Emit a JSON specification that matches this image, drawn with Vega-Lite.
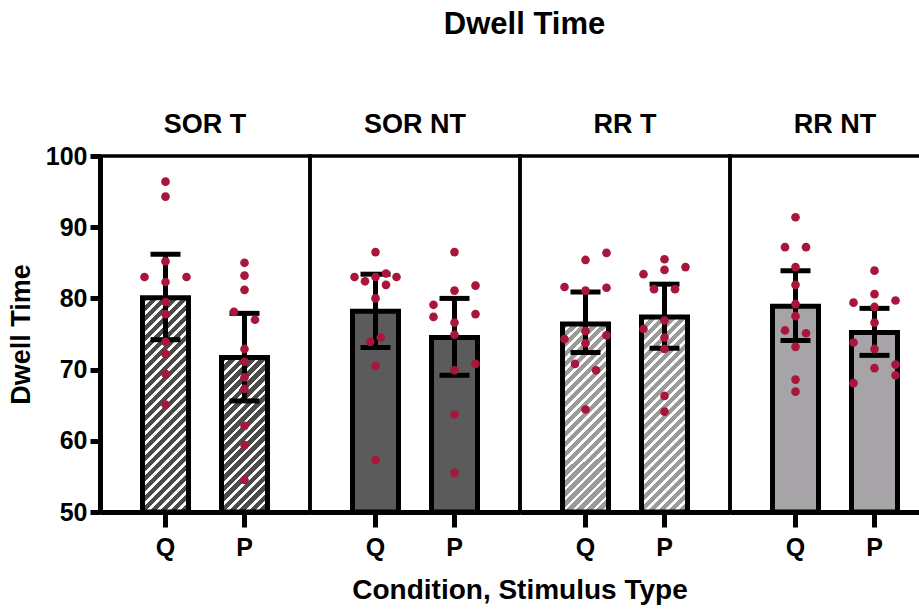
{
  "$schema": "https://vega.github.io/schema/vega-lite/v6.json",
  "background": "white",
  "bounds": "flush",
  "padding": {"left": 7, "top": 9, "right": 0, "bottom": 0},
  "title": {"text": "Dwell Time", "font": "Liberation Sans", "fontSize": 31, "fontWeight": "bold", "color": "black", "anchor": "middle", "frame": "bounds", "dx": 50, "offset": 70},
  "data": {"values": [
    {"cond": "SOR T", "stim": "Q", "kind": "bar", "mean": 80.1, "lo": 74.2, "hi": 86.2},
    {"cond": "SOR T", "stim": "P", "kind": "bar", "mean": 71.7, "lo": 65.6, "hi": 77.9},
    {"cond": "SOR NT", "stim": "Q", "kind": "bar", "mean": 78.2, "lo": 73.1, "hi": 83.4},
    {"cond": "SOR NT", "stim": "P", "kind": "bar", "mean": 74.5, "lo": 69.2, "hi": 80.0},
    {"cond": "RR T", "stim": "Q", "kind": "bar", "mean": 76.4, "lo": 72.4, "hi": 80.9},
    {"cond": "RR T", "stim": "P", "kind": "bar", "mean": 77.4, "lo": 73.0, "hi": 82.0},
    {"cond": "RR NT", "stim": "Q", "kind": "bar", "mean": 78.9, "lo": 74.1, "hi": 83.9},
    {"cond": "RR NT", "stim": "P", "kind": "bar", "mean": 75.2, "lo": 72.0, "hi": 78.6},

    {"cond": "SOR T", "stim": "Q", "kind": "pt", "value": 96.4, "lane": 0},
    {"cond": "SOR T", "stim": "Q", "kind": "pt", "value": 94.3, "lane": 0},
    {"cond": "SOR T", "stim": "Q", "kind": "pt", "value": 85.2, "lane": 0},
    {"cond": "SOR T", "stim": "Q", "kind": "pt", "value": 83.0, "lane": -2},
    {"cond": "SOR T", "stim": "Q", "kind": "pt", "value": 83.0, "lane": 2},
    {"cond": "SOR T", "stim": "Q", "kind": "pt", "value": 82.3, "lane": 0},
    {"cond": "SOR T", "stim": "Q", "kind": "pt", "value": 79.5, "lane": 0},
    {"cond": "SOR T", "stim": "Q", "kind": "pt", "value": 77.8, "lane": 0},
    {"cond": "SOR T", "stim": "Q", "kind": "pt", "value": 73.9, "lane": 0},
    {"cond": "SOR T", "stim": "Q", "kind": "pt", "value": 72.2, "lane": 0},
    {"cond": "SOR T", "stim": "Q", "kind": "pt", "value": 69.4, "lane": 0},
    {"cond": "SOR T", "stim": "Q", "kind": "pt", "value": 65.1, "lane": 0},

    {"cond": "SOR T", "stim": "P", "kind": "pt", "value": 85.0, "lane": 0},
    {"cond": "SOR T", "stim": "P", "kind": "pt", "value": 83.2, "lane": 0},
    {"cond": "SOR T", "stim": "P", "kind": "pt", "value": 81.2, "lane": 0},
    {"cond": "SOR T", "stim": "P", "kind": "pt", "value": 78.1, "lane": -1},
    {"cond": "SOR T", "stim": "P", "kind": "pt", "value": 77.0, "lane": 1},
    {"cond": "SOR T", "stim": "P", "kind": "pt", "value": 72.9, "lane": 0},
    {"cond": "SOR T", "stim": "P", "kind": "pt", "value": 71.1, "lane": 0},
    {"cond": "SOR T", "stim": "P", "kind": "pt", "value": 68.9, "lane": 0},
    {"cond": "SOR T", "stim": "P", "kind": "pt", "value": 67.3, "lane": 0},
    {"cond": "SOR T", "stim": "P", "kind": "pt", "value": 62.1, "lane": 0},
    {"cond": "SOR T", "stim": "P", "kind": "pt", "value": 59.4, "lane": 0},
    {"cond": "SOR T", "stim": "P", "kind": "pt", "value": 54.5, "lane": 0},

    {"cond": "SOR NT", "stim": "Q", "kind": "pt", "value": 86.5, "lane": 0},
    {"cond": "SOR NT", "stim": "Q", "kind": "pt", "value": 83.0, "lane": -2},
    {"cond": "SOR NT", "stim": "Q", "kind": "pt", "value": 82.4, "lane": -1},
    {"cond": "SOR NT", "stim": "Q", "kind": "pt", "value": 83.0, "lane": 0},
    {"cond": "SOR NT", "stim": "Q", "kind": "pt", "value": 83.5, "lane": 1},
    {"cond": "SOR NT", "stim": "Q", "kind": "pt", "value": 83.0, "lane": 2},
    {"cond": "SOR NT", "stim": "Q", "kind": "pt", "value": 81.9, "lane": 1},
    {"cond": "SOR NT", "stim": "Q", "kind": "pt", "value": 80.0, "lane": 0},
    {"cond": "SOR NT", "stim": "Q", "kind": "pt", "value": 73.9, "lane": -0.5},
    {"cond": "SOR NT", "stim": "Q", "kind": "pt", "value": 74.5, "lane": 0.5},
    {"cond": "SOR NT", "stim": "Q", "kind": "pt", "value": 70.5, "lane": 0},
    {"cond": "SOR NT", "stim": "Q", "kind": "pt", "value": 57.3, "lane": 0},

    {"cond": "SOR NT", "stim": "P", "kind": "pt", "value": 86.5, "lane": 0},
    {"cond": "SOR NT", "stim": "P", "kind": "pt", "value": 81.8, "lane": 2},
    {"cond": "SOR NT", "stim": "P", "kind": "pt", "value": 81.1, "lane": 0},
    {"cond": "SOR NT", "stim": "P", "kind": "pt", "value": 79.1, "lane": -2},
    {"cond": "SOR NT", "stim": "P", "kind": "pt", "value": 77.4, "lane": -2},
    {"cond": "SOR NT", "stim": "P", "kind": "pt", "value": 77.8, "lane": 2},
    {"cond": "SOR NT", "stim": "P", "kind": "pt", "value": 76.6, "lane": 0},
    {"cond": "SOR NT", "stim": "P", "kind": "pt", "value": 74.9, "lane": 0},
    {"cond": "SOR NT", "stim": "P", "kind": "pt", "value": 70.8, "lane": 2},
    {"cond": "SOR NT", "stim": "P", "kind": "pt", "value": 69.9, "lane": 0},
    {"cond": "SOR NT", "stim": "P", "kind": "pt", "value": 63.7, "lane": 0},
    {"cond": "SOR NT", "stim": "P", "kind": "pt", "value": 55.5, "lane": 0},

    {"cond": "RR T", "stim": "Q", "kind": "pt", "value": 86.4, "lane": 2},
    {"cond": "RR T", "stim": "Q", "kind": "pt", "value": 85.4, "lane": 0},
    {"cond": "RR T", "stim": "Q", "kind": "pt", "value": 81.6, "lane": -2},
    {"cond": "RR T", "stim": "Q", "kind": "pt", "value": 81.1, "lane": 0},
    {"cond": "RR T", "stim": "Q", "kind": "pt", "value": 81.5, "lane": 2},
    {"cond": "RR T", "stim": "Q", "kind": "pt", "value": 75.4, "lane": 0},
    {"cond": "RR T", "stim": "Q", "kind": "pt", "value": 74.3, "lane": -2},
    {"cond": "RR T", "stim": "Q", "kind": "pt", "value": 74.8, "lane": 2},
    {"cond": "RR T", "stim": "Q", "kind": "pt", "value": 73.7, "lane": 0},
    {"cond": "RR T", "stim": "Q", "kind": "pt", "value": 70.8, "lane": -1},
    {"cond": "RR T", "stim": "Q", "kind": "pt", "value": 69.9, "lane": 1},
    {"cond": "RR T", "stim": "Q", "kind": "pt", "value": 64.4, "lane": 0},

    {"cond": "RR T", "stim": "P", "kind": "pt", "value": 85.5, "lane": 0},
    {"cond": "RR T", "stim": "P", "kind": "pt", "value": 84.4, "lane": 2},
    {"cond": "RR T", "stim": "P", "kind": "pt", "value": 84.0, "lane": 0},
    {"cond": "RR T", "stim": "P", "kind": "pt", "value": 83.4, "lane": -2},
    {"cond": "RR T", "stim": "P", "kind": "pt", "value": 81.3, "lane": -1},
    {"cond": "RR T", "stim": "P", "kind": "pt", "value": 81.3, "lane": 1},
    {"cond": "RR T", "stim": "P", "kind": "pt", "value": 76.9, "lane": 0},
    {"cond": "RR T", "stim": "P", "kind": "pt", "value": 75.7, "lane": -2},
    {"cond": "RR T", "stim": "P", "kind": "pt", "value": 74.5, "lane": 0},
    {"cond": "RR T", "stim": "P", "kind": "pt", "value": 72.9, "lane": 0},
    {"cond": "RR T", "stim": "P", "kind": "pt", "value": 66.3, "lane": 0},
    {"cond": "RR T", "stim": "P", "kind": "pt", "value": 64.1, "lane": 0},

    {"cond": "RR NT", "stim": "Q", "kind": "pt", "value": 91.4, "lane": 0},
    {"cond": "RR NT", "stim": "Q", "kind": "pt", "value": 87.2, "lane": -1},
    {"cond": "RR NT", "stim": "Q", "kind": "pt", "value": 87.2, "lane": 1},
    {"cond": "RR NT", "stim": "Q", "kind": "pt", "value": 84.4, "lane": 0},
    {"cond": "RR NT", "stim": "Q", "kind": "pt", "value": 81.9, "lane": 0},
    {"cond": "RR NT", "stim": "Q", "kind": "pt", "value": 79.2, "lane": 0},
    {"cond": "RR NT", "stim": "Q", "kind": "pt", "value": 77.5, "lane": 0},
    {"cond": "RR NT", "stim": "Q", "kind": "pt", "value": 75.5, "lane": -1},
    {"cond": "RR NT", "stim": "Q", "kind": "pt", "value": 75.1, "lane": 1},
    {"cond": "RR NT", "stim": "Q", "kind": "pt", "value": 73.2, "lane": 0},
    {"cond": "RR NT", "stim": "Q", "kind": "pt", "value": 68.6, "lane": 0},
    {"cond": "RR NT", "stim": "Q", "kind": "pt", "value": 66.9, "lane": 0},

    {"cond": "RR NT", "stim": "P", "kind": "pt", "value": 83.9, "lane": 0},
    {"cond": "RR NT", "stim": "P", "kind": "pt", "value": 80.6, "lane": 0},
    {"cond": "RR NT", "stim": "P", "kind": "pt", "value": 79.4, "lane": -2},
    {"cond": "RR NT", "stim": "P", "kind": "pt", "value": 79.7, "lane": 2},
    {"cond": "RR NT", "stim": "P", "kind": "pt", "value": 78.8, "lane": 0},
    {"cond": "RR NT", "stim": "P", "kind": "pt", "value": 76.6, "lane": 0},
    {"cond": "RR NT", "stim": "P", "kind": "pt", "value": 73.8, "lane": -2},
    {"cond": "RR NT", "stim": "P", "kind": "pt", "value": 72.9, "lane": 0},
    {"cond": "RR NT", "stim": "P", "kind": "pt", "value": 70.7, "lane": 2},
    {"cond": "RR NT", "stim": "P", "kind": "pt", "value": 70.2, "lane": 0},
    {"cond": "RR NT", "stim": "P", "kind": "pt", "value": 69.2, "lane": 2},
    {"cond": "RR NT", "stim": "P", "kind": "pt", "value": 68.1, "lane": -2}
  ]},
  "spacing": 0,
  "facet": {
    "column": {
      "field": "cond", "type": "nominal",
      "sort": ["SOR T", "SOR NT", "RR T", "RR NT"],
      "title": "Condition, Stimulus Type",
      "header": {
        "labelOrient": "top", "titleOrient": "bottom",
        "labelFont": "Liberation Sans", "labelFontSize": 27, "labelFontWeight": "bold", "labelColor": "black", "labelPadding": 17,
        "titleFont": "Liberation Sans", "titleFontSize": 28, "titleFontWeight": "bold", "titleColor": "black", "titlePadding": 7
      }
    }
  },
  "spec": {
    "width": 210,
    "height": 356,
    "resolve": {"scale": {"xOffset": "independent"}},
    "layer": [
      {
        "transform": [{"filter": "datum.kind === 'bar'"}],
        "mark": {"type": "bar", "stroke": "black", "strokeWidth": 5, "width": 46},
        "encoding": {
          "x": {"field": "stim", "type": "nominal", "sort": ["Q", "P"], "title": null, "scale": {"paddingInner": 0.4177, "paddingOuter": 0.538}},
          "y": {"field": "mean", "type": "quantitative", "title": "Dwell Time", "scale": {"domain": [50, 100], "nice": false, "zero": false}, "axis": {"values": [50, 60, 70, 80, 90, 100]}},
          "y2": {"datum": 50},
          "fill": {
            "condition": [
              {"test": "datum.cond === 'SOR T' && datum.stim === 'Q'", "value": {"gradient": "linear", "x1": 0, "y1": 0, "x2": 0.25853, "y2": 1.20443, "stops": [{"offset":0,"color":"#4b4b4b"},{"offset":0.0241,"color":"#4b4b4b"},{"offset":0.0241,"color":"#fff"},{"offset":0.037,"color":"#fff"},{"offset":0.037,"color":"#4b4b4b"},{"offset":0.0611,"color":"#4b4b4b"},{"offset":0.0611,"color":"#fff"},{"offset":0.0741,"color":"#fff"},{"offset":0.0741,"color":"#4b4b4b"},{"offset":0.0981,"color":"#4b4b4b"},{"offset":0.0981,"color":"#fff"},{"offset":0.1111,"color":"#fff"},{"offset":0.1111,"color":"#4b4b4b"},{"offset":0.1352,"color":"#4b4b4b"},{"offset":0.1352,"color":"#fff"},{"offset":0.1481,"color":"#fff"},{"offset":0.1481,"color":"#4b4b4b"},{"offset":0.1722,"color":"#4b4b4b"},{"offset":0.1722,"color":"#fff"},{"offset":0.1852,"color":"#fff"},{"offset":0.1852,"color":"#4b4b4b"},{"offset":0.2093,"color":"#4b4b4b"},{"offset":0.2093,"color":"#fff"},{"offset":0.2222,"color":"#fff"},{"offset":0.2222,"color":"#4b4b4b"},{"offset":0.2463,"color":"#4b4b4b"},{"offset":0.2463,"color":"#fff"},{"offset":0.2593,"color":"#fff"},{"offset":0.2593,"color":"#4b4b4b"},{"offset":0.2833,"color":"#4b4b4b"},{"offset":0.2833,"color":"#fff"},{"offset":0.2963,"color":"#fff"},{"offset":0.2963,"color":"#4b4b4b"},{"offset":0.3204,"color":"#4b4b4b"},{"offset":0.3204,"color":"#fff"},{"offset":0.3333,"color":"#fff"},{"offset":0.3333,"color":"#4b4b4b"},{"offset":0.3574,"color":"#4b4b4b"},{"offset":0.3574,"color":"#fff"},{"offset":0.3704,"color":"#fff"},{"offset":0.3704,"color":"#4b4b4b"},{"offset":0.3944,"color":"#4b4b4b"},{"offset":0.3944,"color":"#fff"},{"offset":0.4074,"color":"#fff"},{"offset":0.4074,"color":"#4b4b4b"},{"offset":0.4315,"color":"#4b4b4b"},{"offset":0.4315,"color":"#fff"},{"offset":0.4444,"color":"#fff"},{"offset":0.4444,"color":"#4b4b4b"},{"offset":0.4685,"color":"#4b4b4b"},{"offset":0.4685,"color":"#fff"},{"offset":0.4815,"color":"#fff"},{"offset":0.4815,"color":"#4b4b4b"},{"offset":0.5056,"color":"#4b4b4b"},{"offset":0.5056,"color":"#fff"},{"offset":0.5185,"color":"#fff"},{"offset":0.5185,"color":"#4b4b4b"},{"offset":0.5426,"color":"#4b4b4b"},{"offset":0.5426,"color":"#fff"},{"offset":0.5556,"color":"#fff"},{"offset":0.5556,"color":"#4b4b4b"},{"offset":0.5796,"color":"#4b4b4b"},{"offset":0.5796,"color":"#fff"},{"offset":0.5926,"color":"#fff"},{"offset":0.5926,"color":"#4b4b4b"},{"offset":0.6167,"color":"#4b4b4b"},{"offset":0.6167,"color":"#fff"},{"offset":0.6296,"color":"#fff"},{"offset":0.6296,"color":"#4b4b4b"},{"offset":0.6537,"color":"#4b4b4b"},{"offset":0.6537,"color":"#fff"},{"offset":0.6667,"color":"#fff"},{"offset":0.6667,"color":"#4b4b4b"},{"offset":0.6907,"color":"#4b4b4b"},{"offset":0.6907,"color":"#fff"},{"offset":0.7037,"color":"#fff"},{"offset":0.7037,"color":"#4b4b4b"},{"offset":0.7278,"color":"#4b4b4b"},{"offset":0.7278,"color":"#fff"},{"offset":0.7407,"color":"#fff"},{"offset":0.7407,"color":"#4b4b4b"},{"offset":0.7648,"color":"#4b4b4b"},{"offset":0.7648,"color":"#fff"},{"offset":0.7778,"color":"#fff"},{"offset":0.7778,"color":"#4b4b4b"},{"offset":0.8019,"color":"#4b4b4b"},{"offset":0.8019,"color":"#fff"},{"offset":0.8148,"color":"#fff"},{"offset":0.8148,"color":"#4b4b4b"},{"offset":0.8389,"color":"#4b4b4b"},{"offset":0.8389,"color":"#fff"},{"offset":0.8519,"color":"#fff"},{"offset":0.8519,"color":"#4b4b4b"},{"offset":0.8759,"color":"#4b4b4b"},{"offset":0.8759,"color":"#fff"},{"offset":0.8889,"color":"#fff"},{"offset":0.8889,"color":"#4b4b4b"},{"offset":0.913,"color":"#4b4b4b"},{"offset":0.913,"color":"#fff"},{"offset":0.9259,"color":"#fff"},{"offset":0.9259,"color":"#4b4b4b"},{"offset":0.95,"color":"#4b4b4b"},{"offset":0.95,"color":"#fff"},{"offset":0.963,"color":"#fff"},{"offset":0.963,"color":"#4b4b4b"},{"offset":0.987,"color":"#4b4b4b"},{"offset":0.987,"color":"#fff"},{"offset":1,"color":"#fff"}]}},
              {"test": "datum.cond === 'SOR T' && datum.stim === 'P'", "value": {"gradient": "linear", "x1": 0, "y1": 0, "x2": 0.47795, "y2": 1.60528, "stops": [{"offset":0,"color":"#4b4b4b"},{"offset":0.0241,"color":"#4b4b4b"},{"offset":0.0241,"color":"#fff"},{"offset":0.037,"color":"#fff"},{"offset":0.037,"color":"#4b4b4b"},{"offset":0.0611,"color":"#4b4b4b"},{"offset":0.0611,"color":"#fff"},{"offset":0.0741,"color":"#fff"},{"offset":0.0741,"color":"#4b4b4b"},{"offset":0.0981,"color":"#4b4b4b"},{"offset":0.0981,"color":"#fff"},{"offset":0.1111,"color":"#fff"},{"offset":0.1111,"color":"#4b4b4b"},{"offset":0.1352,"color":"#4b4b4b"},{"offset":0.1352,"color":"#fff"},{"offset":0.1481,"color":"#fff"},{"offset":0.1481,"color":"#4b4b4b"},{"offset":0.1722,"color":"#4b4b4b"},{"offset":0.1722,"color":"#fff"},{"offset":0.1852,"color":"#fff"},{"offset":0.1852,"color":"#4b4b4b"},{"offset":0.2093,"color":"#4b4b4b"},{"offset":0.2093,"color":"#fff"},{"offset":0.2222,"color":"#fff"},{"offset":0.2222,"color":"#4b4b4b"},{"offset":0.2463,"color":"#4b4b4b"},{"offset":0.2463,"color":"#fff"},{"offset":0.2593,"color":"#fff"},{"offset":0.2593,"color":"#4b4b4b"},{"offset":0.2833,"color":"#4b4b4b"},{"offset":0.2833,"color":"#fff"},{"offset":0.2963,"color":"#fff"},{"offset":0.2963,"color":"#4b4b4b"},{"offset":0.3204,"color":"#4b4b4b"},{"offset":0.3204,"color":"#fff"},{"offset":0.3333,"color":"#fff"},{"offset":0.3333,"color":"#4b4b4b"},{"offset":0.3574,"color":"#4b4b4b"},{"offset":0.3574,"color":"#fff"},{"offset":0.3704,"color":"#fff"},{"offset":0.3704,"color":"#4b4b4b"},{"offset":0.3944,"color":"#4b4b4b"},{"offset":0.3944,"color":"#fff"},{"offset":0.4074,"color":"#fff"},{"offset":0.4074,"color":"#4b4b4b"},{"offset":0.4315,"color":"#4b4b4b"},{"offset":0.4315,"color":"#fff"},{"offset":0.4444,"color":"#fff"},{"offset":0.4444,"color":"#4b4b4b"},{"offset":0.4685,"color":"#4b4b4b"},{"offset":0.4685,"color":"#fff"},{"offset":0.4815,"color":"#fff"},{"offset":0.4815,"color":"#4b4b4b"},{"offset":0.5056,"color":"#4b4b4b"},{"offset":0.5056,"color":"#fff"},{"offset":0.5185,"color":"#fff"},{"offset":0.5185,"color":"#4b4b4b"},{"offset":0.5426,"color":"#4b4b4b"},{"offset":0.5426,"color":"#fff"},{"offset":0.5556,"color":"#fff"},{"offset":0.5556,"color":"#4b4b4b"},{"offset":0.5796,"color":"#4b4b4b"},{"offset":0.5796,"color":"#fff"},{"offset":0.5926,"color":"#fff"},{"offset":0.5926,"color":"#4b4b4b"},{"offset":0.6167,"color":"#4b4b4b"},{"offset":0.6167,"color":"#fff"},{"offset":0.6296,"color":"#fff"},{"offset":0.6296,"color":"#4b4b4b"},{"offset":0.6537,"color":"#4b4b4b"},{"offset":0.6537,"color":"#fff"},{"offset":0.6667,"color":"#fff"},{"offset":0.6667,"color":"#4b4b4b"},{"offset":0.6907,"color":"#4b4b4b"},{"offset":0.6907,"color":"#fff"},{"offset":0.7037,"color":"#fff"},{"offset":0.7037,"color":"#4b4b4b"},{"offset":0.7278,"color":"#4b4b4b"},{"offset":0.7278,"color":"#fff"},{"offset":0.7407,"color":"#fff"},{"offset":0.7407,"color":"#4b4b4b"},{"offset":0.7648,"color":"#4b4b4b"},{"offset":0.7648,"color":"#fff"},{"offset":0.7778,"color":"#fff"},{"offset":0.7778,"color":"#4b4b4b"},{"offset":0.8019,"color":"#4b4b4b"},{"offset":0.8019,"color":"#fff"},{"offset":0.8148,"color":"#fff"},{"offset":0.8148,"color":"#4b4b4b"},{"offset":0.8389,"color":"#4b4b4b"},{"offset":0.8389,"color":"#fff"},{"offset":0.8519,"color":"#fff"},{"offset":0.8519,"color":"#4b4b4b"},{"offset":0.8759,"color":"#4b4b4b"},{"offset":0.8759,"color":"#fff"},{"offset":0.8889,"color":"#fff"},{"offset":0.8889,"color":"#4b4b4b"},{"offset":0.913,"color":"#4b4b4b"},{"offset":0.913,"color":"#fff"},{"offset":0.9259,"color":"#fff"},{"offset":0.9259,"color":"#4b4b4b"},{"offset":0.95,"color":"#4b4b4b"},{"offset":0.95,"color":"#fff"},{"offset":0.963,"color":"#fff"},{"offset":0.963,"color":"#4b4b4b"},{"offset":0.987,"color":"#4b4b4b"},{"offset":0.987,"color":"#fff"},{"offset":1,"color":"#fff"}]}},
              {"test": "datum.cond === 'RR T' && datum.stim === 'Q'", "value": {"gradient": "linear", "x1": 0, "y1": 0, "x2": 0.32924, "y2": 1.35059, "stops": [{"offset":0,"color":"#9b9b9b"},{"offset":0.0241,"color":"#9b9b9b"},{"offset":0.0241,"color":"#fff"},{"offset":0.037,"color":"#fff"},{"offset":0.037,"color":"#9b9b9b"},{"offset":0.0611,"color":"#9b9b9b"},{"offset":0.0611,"color":"#fff"},{"offset":0.0741,"color":"#fff"},{"offset":0.0741,"color":"#9b9b9b"},{"offset":0.0981,"color":"#9b9b9b"},{"offset":0.0981,"color":"#fff"},{"offset":0.1111,"color":"#fff"},{"offset":0.1111,"color":"#9b9b9b"},{"offset":0.1352,"color":"#9b9b9b"},{"offset":0.1352,"color":"#fff"},{"offset":0.1481,"color":"#fff"},{"offset":0.1481,"color":"#9b9b9b"},{"offset":0.1722,"color":"#9b9b9b"},{"offset":0.1722,"color":"#fff"},{"offset":0.1852,"color":"#fff"},{"offset":0.1852,"color":"#9b9b9b"},{"offset":0.2093,"color":"#9b9b9b"},{"offset":0.2093,"color":"#fff"},{"offset":0.2222,"color":"#fff"},{"offset":0.2222,"color":"#9b9b9b"},{"offset":0.2463,"color":"#9b9b9b"},{"offset":0.2463,"color":"#fff"},{"offset":0.2593,"color":"#fff"},{"offset":0.2593,"color":"#9b9b9b"},{"offset":0.2833,"color":"#9b9b9b"},{"offset":0.2833,"color":"#fff"},{"offset":0.2963,"color":"#fff"},{"offset":0.2963,"color":"#9b9b9b"},{"offset":0.3204,"color":"#9b9b9b"},{"offset":0.3204,"color":"#fff"},{"offset":0.3333,"color":"#fff"},{"offset":0.3333,"color":"#9b9b9b"},{"offset":0.3574,"color":"#9b9b9b"},{"offset":0.3574,"color":"#fff"},{"offset":0.3704,"color":"#fff"},{"offset":0.3704,"color":"#9b9b9b"},{"offset":0.3944,"color":"#9b9b9b"},{"offset":0.3944,"color":"#fff"},{"offset":0.4074,"color":"#fff"},{"offset":0.4074,"color":"#9b9b9b"},{"offset":0.4315,"color":"#9b9b9b"},{"offset":0.4315,"color":"#fff"},{"offset":0.4444,"color":"#fff"},{"offset":0.4444,"color":"#9b9b9b"},{"offset":0.4685,"color":"#9b9b9b"},{"offset":0.4685,"color":"#fff"},{"offset":0.4815,"color":"#fff"},{"offset":0.4815,"color":"#9b9b9b"},{"offset":0.5056,"color":"#9b9b9b"},{"offset":0.5056,"color":"#fff"},{"offset":0.5185,"color":"#fff"},{"offset":0.5185,"color":"#9b9b9b"},{"offset":0.5426,"color":"#9b9b9b"},{"offset":0.5426,"color":"#fff"},{"offset":0.5556,"color":"#fff"},{"offset":0.5556,"color":"#9b9b9b"},{"offset":0.5796,"color":"#9b9b9b"},{"offset":0.5796,"color":"#fff"},{"offset":0.5926,"color":"#fff"},{"offset":0.5926,"color":"#9b9b9b"},{"offset":0.6167,"color":"#9b9b9b"},{"offset":0.6167,"color":"#fff"},{"offset":0.6296,"color":"#fff"},{"offset":0.6296,"color":"#9b9b9b"},{"offset":0.6537,"color":"#9b9b9b"},{"offset":0.6537,"color":"#fff"},{"offset":0.6667,"color":"#fff"},{"offset":0.6667,"color":"#9b9b9b"},{"offset":0.6907,"color":"#9b9b9b"},{"offset":0.6907,"color":"#fff"},{"offset":0.7037,"color":"#fff"},{"offset":0.7037,"color":"#9b9b9b"},{"offset":0.7278,"color":"#9b9b9b"},{"offset":0.7278,"color":"#fff"},{"offset":0.7407,"color":"#fff"},{"offset":0.7407,"color":"#9b9b9b"},{"offset":0.7648,"color":"#9b9b9b"},{"offset":0.7648,"color":"#fff"},{"offset":0.7778,"color":"#fff"},{"offset":0.7778,"color":"#9b9b9b"},{"offset":0.8019,"color":"#9b9b9b"},{"offset":0.8019,"color":"#fff"},{"offset":0.8148,"color":"#fff"},{"offset":0.8148,"color":"#9b9b9b"},{"offset":0.8389,"color":"#9b9b9b"},{"offset":0.8389,"color":"#fff"},{"offset":0.8519,"color":"#fff"},{"offset":0.8519,"color":"#9b9b9b"},{"offset":0.8759,"color":"#9b9b9b"},{"offset":0.8759,"color":"#fff"},{"offset":0.8889,"color":"#fff"},{"offset":0.8889,"color":"#9b9b9b"},{"offset":0.913,"color":"#9b9b9b"},{"offset":0.913,"color":"#fff"},{"offset":0.9259,"color":"#fff"},{"offset":0.9259,"color":"#9b9b9b"},{"offset":0.95,"color":"#9b9b9b"},{"offset":0.95,"color":"#fff"},{"offset":0.963,"color":"#fff"},{"offset":0.963,"color":"#9b9b9b"},{"offset":0.987,"color":"#9b9b9b"},{"offset":0.987,"color":"#fff"},{"offset":1,"color":"#fff"}]}},
              {"test": "datum.cond === 'RR T' && datum.stim === 'P'", "value": {"gradient": "linear", "x1": 0, "y1": 0, "x2": 0.30911, "y2": 1.31103, "stops": [{"offset":0,"color":"#9b9b9b"},{"offset":0.0241,"color":"#9b9b9b"},{"offset":0.0241,"color":"#fff"},{"offset":0.037,"color":"#fff"},{"offset":0.037,"color":"#9b9b9b"},{"offset":0.0611,"color":"#9b9b9b"},{"offset":0.0611,"color":"#fff"},{"offset":0.0741,"color":"#fff"},{"offset":0.0741,"color":"#9b9b9b"},{"offset":0.0981,"color":"#9b9b9b"},{"offset":0.0981,"color":"#fff"},{"offset":0.1111,"color":"#fff"},{"offset":0.1111,"color":"#9b9b9b"},{"offset":0.1352,"color":"#9b9b9b"},{"offset":0.1352,"color":"#fff"},{"offset":0.1481,"color":"#fff"},{"offset":0.1481,"color":"#9b9b9b"},{"offset":0.1722,"color":"#9b9b9b"},{"offset":0.1722,"color":"#fff"},{"offset":0.1852,"color":"#fff"},{"offset":0.1852,"color":"#9b9b9b"},{"offset":0.2093,"color":"#9b9b9b"},{"offset":0.2093,"color":"#fff"},{"offset":0.2222,"color":"#fff"},{"offset":0.2222,"color":"#9b9b9b"},{"offset":0.2463,"color":"#9b9b9b"},{"offset":0.2463,"color":"#fff"},{"offset":0.2593,"color":"#fff"},{"offset":0.2593,"color":"#9b9b9b"},{"offset":0.2833,"color":"#9b9b9b"},{"offset":0.2833,"color":"#fff"},{"offset":0.2963,"color":"#fff"},{"offset":0.2963,"color":"#9b9b9b"},{"offset":0.3204,"color":"#9b9b9b"},{"offset":0.3204,"color":"#fff"},{"offset":0.3333,"color":"#fff"},{"offset":0.3333,"color":"#9b9b9b"},{"offset":0.3574,"color":"#9b9b9b"},{"offset":0.3574,"color":"#fff"},{"offset":0.3704,"color":"#fff"},{"offset":0.3704,"color":"#9b9b9b"},{"offset":0.3944,"color":"#9b9b9b"},{"offset":0.3944,"color":"#fff"},{"offset":0.4074,"color":"#fff"},{"offset":0.4074,"color":"#9b9b9b"},{"offset":0.4315,"color":"#9b9b9b"},{"offset":0.4315,"color":"#fff"},{"offset":0.4444,"color":"#fff"},{"offset":0.4444,"color":"#9b9b9b"},{"offset":0.4685,"color":"#9b9b9b"},{"offset":0.4685,"color":"#fff"},{"offset":0.4815,"color":"#fff"},{"offset":0.4815,"color":"#9b9b9b"},{"offset":0.5056,"color":"#9b9b9b"},{"offset":0.5056,"color":"#fff"},{"offset":0.5185,"color":"#fff"},{"offset":0.5185,"color":"#9b9b9b"},{"offset":0.5426,"color":"#9b9b9b"},{"offset":0.5426,"color":"#fff"},{"offset":0.5556,"color":"#fff"},{"offset":0.5556,"color":"#9b9b9b"},{"offset":0.5796,"color":"#9b9b9b"},{"offset":0.5796,"color":"#fff"},{"offset":0.5926,"color":"#fff"},{"offset":0.5926,"color":"#9b9b9b"},{"offset":0.6167,"color":"#9b9b9b"},{"offset":0.6167,"color":"#fff"},{"offset":0.6296,"color":"#fff"},{"offset":0.6296,"color":"#9b9b9b"},{"offset":0.6537,"color":"#9b9b9b"},{"offset":0.6537,"color":"#fff"},{"offset":0.6667,"color":"#fff"},{"offset":0.6667,"color":"#9b9b9b"},{"offset":0.6907,"color":"#9b9b9b"},{"offset":0.6907,"color":"#fff"},{"offset":0.7037,"color":"#fff"},{"offset":0.7037,"color":"#9b9b9b"},{"offset":0.7278,"color":"#9b9b9b"},{"offset":0.7278,"color":"#fff"},{"offset":0.7407,"color":"#fff"},{"offset":0.7407,"color":"#9b9b9b"},{"offset":0.7648,"color":"#9b9b9b"},{"offset":0.7648,"color":"#fff"},{"offset":0.7778,"color":"#fff"},{"offset":0.7778,"color":"#9b9b9b"},{"offset":0.8019,"color":"#9b9b9b"},{"offset":0.8019,"color":"#fff"},{"offset":0.8148,"color":"#fff"},{"offset":0.8148,"color":"#9b9b9b"},{"offset":0.8389,"color":"#9b9b9b"},{"offset":0.8389,"color":"#fff"},{"offset":0.8519,"color":"#fff"},{"offset":0.8519,"color":"#9b9b9b"},{"offset":0.8759,"color":"#9b9b9b"},{"offset":0.8759,"color":"#fff"},{"offset":0.8889,"color":"#fff"},{"offset":0.8889,"color":"#9b9b9b"},{"offset":0.913,"color":"#9b9b9b"},{"offset":0.913,"color":"#fff"},{"offset":0.9259,"color":"#fff"},{"offset":0.9259,"color":"#9b9b9b"},{"offset":0.95,"color":"#9b9b9b"},{"offset":0.95,"color":"#fff"},{"offset":0.963,"color":"#fff"},{"offset":0.963,"color":"#9b9b9b"},{"offset":0.987,"color":"#9b9b9b"},{"offset":0.987,"color":"#fff"},{"offset":1,"color":"#fff"}]}},
              {"test": "datum.cond === 'SOR NT'", "value": "#5b5b5b"}
            ],
            "value": "#a6a4a7"
          }
        }
      },
      {
        "transform": [{"filter": "datum.kind === 'bar'"}],
        "mark": {"type": "rule", "strokeWidth": 5, "color": "black"},
        "encoding": {
          "x": {"field": "stim", "type": "nominal", "sort": ["Q", "P"], "title": null},
          "y": {"field": "lo", "type": "quantitative", "title": "Dwell Time"},
          "y2": {"field": "hi", "title": "Dwell Time"}
        }
      },
      {
        "transform": [{"filter": "datum.kind === 'bar'"}],
        "mark": {"type": "tick", "size": 30, "thickness": 5, "color": "black", "opacity": 1},
        "encoding": {
          "x": {"field": "stim", "type": "nominal", "sort": ["Q", "P"], "title": null},
          "y": {"field": "lo", "type": "quantitative", "title": "Dwell Time"}
        }
      },
      {
        "transform": [{"filter": "datum.kind === 'bar'"}],
        "mark": {"type": "tick", "size": 30, "thickness": 5, "color": "black", "opacity": 1},
        "encoding": {
          "x": {"field": "stim", "type": "nominal", "sort": ["Q", "P"], "title": null},
          "y": {"field": "hi", "type": "quantitative", "title": "Dwell Time"}
        }
      },
      {
        "transform": [{"filter": "datum.kind === 'pt'"}],
        "mark": {"type": "circle", "size": 75, "color": "#a8173b", "opacity": 1},
        "encoding": {
          "x": {"field": "stim", "type": "nominal", "sort": ["Q", "P"], "title": null},
          "xOffset": {"field": "lane", "type": "quantitative", "scale": {"domain": [-2, 2], "range": [2, 44]}},
          "y": {"field": "value", "type": "quantitative", "title": "Dwell Time"}
        }
      }
    ]
  },
  "config": {
    "view": {"stroke": "black", "strokeWidth": 3.5},
    "axis": {
      "domainColor": "black", "domainWidth": 5, "tickColor": "black", "tickWidth": 5, "tickSize": 15,
      "labelFont": "Liberation Sans", "labelFontSize": 25, "labelFontWeight": "bold", "labelColor": "black",
      "titleFont": "Liberation Sans", "titleFontSize": 27, "titleFontWeight": "bold", "titleColor": "black",
      "grid": false
    },
    "axisY": {"labelPadding": 3, "titlePadding": 10, "tickSize": 10},
    "axisX": {"labelPadding": 8, "labelAngle": 0}
  }
}
